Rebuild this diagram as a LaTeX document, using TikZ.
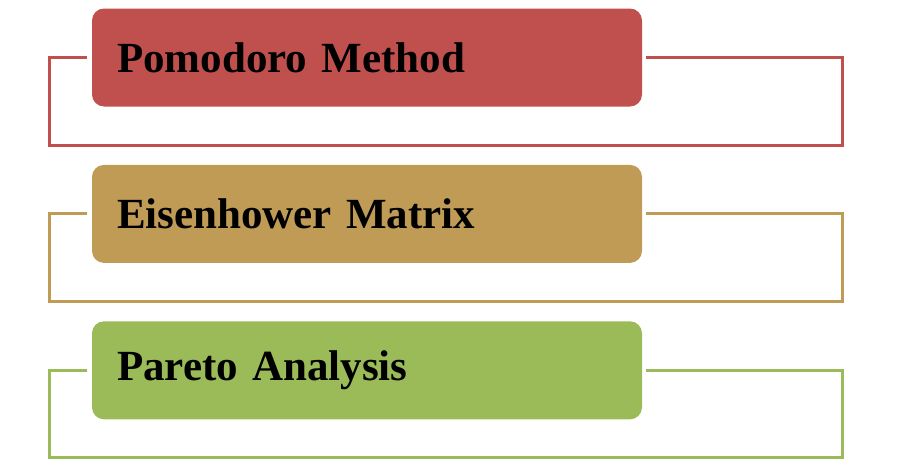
\documentclass[tikz,border=0pt]{standalone}
\usepackage{fontspec}
\setmainfont{Liberation Serif}
\usetikzlibrary{positioning}
\definecolor{pomodoroRed}{HTML}{C0504D}
\definecolor{eisenhowerTan}{HTML}{BF9B56}
\definecolor{paretoGreen}{HTML}{9BBB59}
\begin{document}
\begin{tikzpicture}[x=1pt, y=-1pt,
  node distance = 58pt,
 method/.style = {rectangle, rounded corners=12pt, draw=none,
                   minimum width=550pt, minimum height=98pt,
                   text width=500pt, inner xsep=25pt, align=left,
                   font=\fontsize{43}{50}\selectfont\bfseries},
  frame/.style = {line width=3pt}
                    ]
\useasboundingbox (0,0) rectangle (910,466);
\node (pomodoro) [method, fill=pomodoroRed] at (367,57.5) {Pomodoro Method};
\node (eisenhower) [method, fill=eisenhowerTan, below=of pomodoro] {Eisenhower Matrix};
\node (pareto) [method, fill=paretoGreen, below=of eisenhower] {Pareto Analysis};
% brackets
\draw [frame, draw=pomodoroRed] ([xshift=-5pt]pomodoro.west) --++ (-37,0) --++ (0,87.5) -| ([xshift=200pt]pomodoro.east) -- ([xshift=4pt]pomodoro.east);
\draw [frame, draw=eisenhowerTan] ([xshift=-5pt]eisenhower.west) --++ (-37,0) --++ (0,87.5) -| ([xshift=200pt]eisenhower.east) -- ([xshift=4pt]eisenhower.east);
\draw [frame, draw=paretoGreen] ([xshift=-5pt]pareto.west) --++ (-37,0) --++ (0,87.5) -| ([xshift=200pt]pareto.east) -- ([xshift=4pt]pareto.east);
\end{tikzpicture}
\end{document}
